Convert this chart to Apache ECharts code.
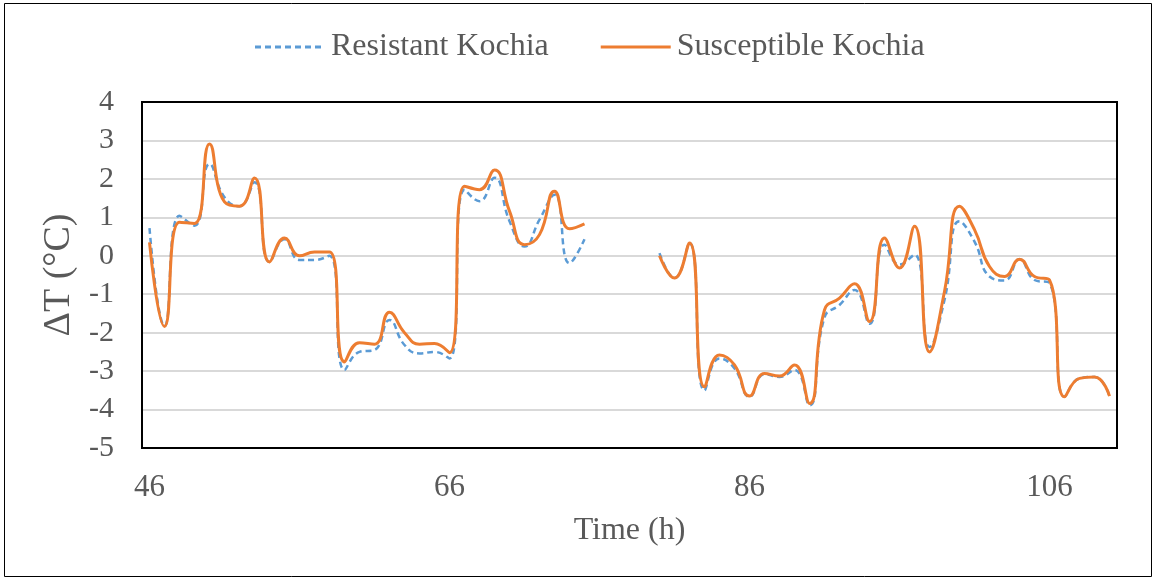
<!DOCTYPE html>
<html>
<head>
<meta charset="utf-8">
<script src="https://cdn.jsdelivr.net/npm/echarts@6/dist/echarts.min.js"></script>
<style>
html,body{margin:0;padding:0;background:#fff;}
#chart{width:1156px;height:580px;}
</style>
</head>
<body>
<div id="chart"></div>
<script>
// Categories: time in hours
const hours = [];
for (let h = 46; h <= 110; h++) hours.push(String(h));

// Resistant Kochia ΔT (°C), 46..110 h (null = missing)
const resistant = [
  0.72, -1.83, 1.04, 0.78, 2.39, 1.52, 1.29, 1.91, -0.16, 0.43,
  -0.11, -0.11, 0.00, -2.97, -2.50, -2.45, -1.67, -2.32, -2.54, -2.50,
  -2.67, 1.72, 1.42, 2.03, 0.90, 0.24, 0.94, 1.59, -0.19, 0.43,
  null, null, null, null, 0.07, -0.58, 0.33, -3.50, -2.67, -2.93,
  -3.67, -3.08, -3.15, -2.97, -3.89, -1.60, -1.28, -0.89, -1.77, 0.29,
  -0.23, 0.03, -2.37, -1.15, 0.90, 0.37, -0.54, -0.64, -0.09, -0.63,
  -0.71, -3.67, -3.19, -3.15, -3.65
];

// Susceptible Kochia ΔT (°C), 46..110 h
const susceptible = [
  0.35, -1.84, 0.87, 0.84, 2.91, 1.40, 1.29, 2.02, -0.16, 0.46,
  0.00, 0.10, 0.10, -2.76, -2.26, -2.30, -1.47, -2.00, -2.30, -2.28,
  -2.52, 1.81, 1.72, 2.23, 1.16, 0.29, 0.55, 1.68, 0.70, 0.83,
  null, null, null, null, 0.00, -0.58, 0.33, -3.41, -2.58, -2.84,
  -3.65, -3.06, -3.13, -2.84, -3.84, -1.41, -1.10, -0.73, -1.71, 0.46,
  -0.32, 0.77, -2.50, -0.93, 1.29, 0.68, -0.28, -0.54, -0.09, -0.54,
  -0.63, -3.67, -3.19, -3.15, -3.65
];

const seriesNames = ['Resistant Kochia', 'Susceptible Kochia'];
const xAxisTitle = 'Time (h)';
const yAxisTitle = 'ΔT (°C)';

const FONT = '"Liberation Serif", "Times New Roman", serif';
const GRID = {left: 142, top: 102, right: 39, bottom: 132};
const W = 1156, H = 580;

const dashIcon = 'path://M0,0h6v3h-6z M10,0h6v3h-6z M20,0h6v3h-6z M30,0h6v3h-6z M40,0h6v3h-6z M50,0h6v3h-6z M60,0h6v3h-6z M70,0h0.01v3h-0.01z';
const solidIcon = 'path://M0,0h70v3h-70z';

const chart = echarts.init(document.getElementById('chart'), null, {renderer: 'canvas'});
chart.setOption({
  animation: false,
  backgroundColor: '#fff',
  graphic: [
    {
      type: 'rect', z: 100,
      shape: {x: 4.5, y: 3.5, width: 1147, height: 573},
      style: {fill: 'none', stroke: '#000', lineWidth: 1},
      silent: true
    },
    {
      type: 'rect', z: 100,
      shape: {x: GRID.left, y: GRID.top, width: W - GRID.left - GRID.right, height: H - GRID.top - GRID.bottom},
      style: {fill: 'none', stroke: '#000', lineWidth: 2},
      silent: true
    }
  ],
  legend: {
    top: 26,
    left: 250,
    itemWidth: 70,
    itemHeight: 3,
    itemGap: 52,
    textStyle: {fontFamily: FONT, fontSize: 32, color: '#595959', padding: [0, 0, 0, 1]},
    data: [
      {name: seriesNames[0], icon: dashIcon, itemStyle: {color: '#5B9BD5'}},
      {name: seriesNames[1], icon: solidIcon, itemStyle: {color: '#ED7D31'}}
    ]
  },
  grid: {
    left: GRID.left, right: GRID.right, top: GRID.top, bottom: GRID.bottom,
    show: false
  },
  xAxis: {
    type: 'category',
    data: hours,
    boundaryGap: true,
    axisLine: {show: false},
    axisTick: {show: false},
    axisLabel: {interval: 19, margin: 24, fontFamily: FONT, fontSize: 31, color: '#595959'},
    splitLine: {show: false},
    name: xAxisTitle,
    nameLocation: 'middle',
    nameGap: 67,
    nameTextStyle: {fontFamily: FONT, fontSize: 32, color: '#595959', verticalAlign: 'top'}
  },
  yAxis: {
    type: 'value',
    min: -5, max: 4, interval: 1,
    axisLine: {show: false},
    axisTick: {show: false},
    axisLabel: {margin: 28, fontFamily: FONT, fontSize: 30, color: '#595959'},
    splitLine: {show: true, lineStyle: {color: '#d9d9d9', width: 2}},
    name: yAxisTitle,
    nameLocation: 'middle',
    nameGap: 64,
    nameTextStyle: {fontFamily: FONT, fontSize: 38, color: '#595959'}
  },
  series: [
    {
      name: seriesNames[0],
      type: 'line',
      data: resistant,
      smooth: 0.5,
      symbol: 'none',
      connectNulls: false,
      lineStyle: {color: '#5B9BD5', width: 2.5, type: [6, 4]},
      itemStyle: {color: '#5B9BD5'}
    },
    {
      name: seriesNames[1],
      type: 'line',
      data: susceptible,
      smooth: 0.5,
      symbol: 'none',
      connectNulls: false,
      lineStyle: {color: '#ED7D31', width: 3},
      itemStyle: {color: '#ED7D31'}
    }
  ]
});
</script>
</body>
</html>
